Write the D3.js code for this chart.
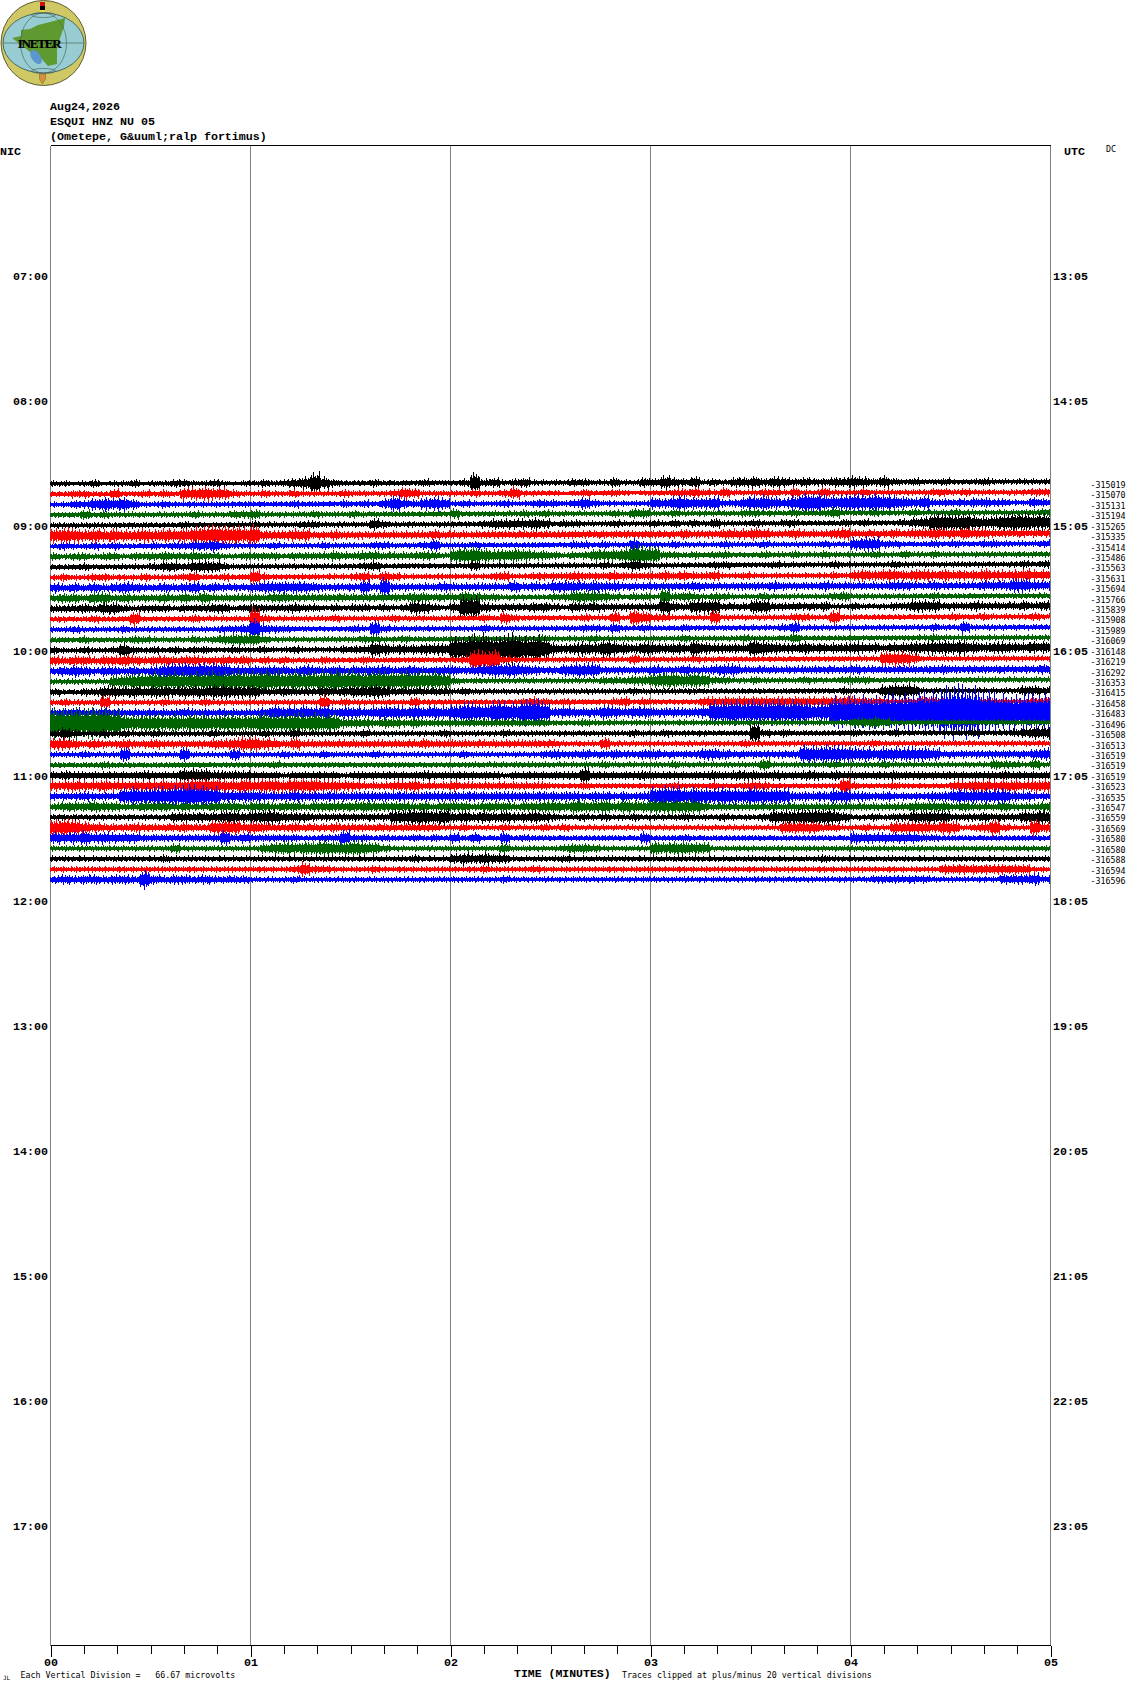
<!DOCTYPE html>
<html><head><meta charset="utf-8">
<style>html,body{margin:0;padding:0;background:#fff}svg{display:block}text{white-space:pre;fill:#000}</style>
<script src="https://cdn.jsdelivr.net/npm/d3@7/dist/d3.min.js"></script>
</head><body><div id="c"></div>
<script>
const titleLines=["Aug24,2026","ESQUI HNZ NU 05","(Ometepe, G&uuml;ralp fortimus)"];
const nicLabels=["07:00","08:00","09:00","10:00","11:00","12:00","13:00","14:00","15:00","16:00","17:00"];
const utcLabels=["13:05","14:05","15:05","16:05","17:05","18:05","19:05","20:05","21:05","22:05","23:05"];
const minuteLabels=["00","01","02","03","04","05"];
const traceColors=["#000000","#ff0000","#0000ff","#006400"];
const traceLabels=["-315019","-315070","-315131","-315194","-315265","-315335","-315414","-315486","-315563","-315631","-315694","-315766","-315839","-315908","-315989","-316069","-316148","-316219","-316292","-316353","-316415","-316458","-316483","-316496","-316508","-316513","-316519","-316519","-316519","-316523","-316535","-316547","-316559","-316569","-316580","-316580","-316588","-316594","-316596"];
const traceDrift=[-2,-2,-2,-2.5,-3,-2.5,-2.5,-2.5,-3,-2.5,-2.5,-2.5,-3,-2.5,-2.5,-2.5,-3,-2.5,-2,-2,-1.5,-1,-1,-1,-1,-1,-.5,-.5,0,0,0,0,0,0,0,0,0,0,-.5];
// half-amplitude of each trace (pixels of deflection) read every 10 px across the 5 minutes
const trace01=[3,3,2,3,4,2,3,3,4,2,3,3,4,4,3,3,4,3,2,3,3,4,3,4,5,6,11,6,4,3,3,3,4,3,3,3,3,4,3,3,3,4,10,4,5,3,4,5,3,3,3,3,4,4,3,3,5,3,3,5,4,7,5,4,6,3,4,3,5,5,6,4,6,5,4,5,4,4,5,5,6,5,4,6,4,3,4,3,3,4,3,3,3,4,3,3,3,3,3,3];
const trace02=[3,3,4,4,3,3,5,3,3,4,3,4,3,6,6,7,6,6,4,3,3,4,3,3,4,3,3,3,3,4,3,3,3,3,4,6,5,3,3,3,3,3,4,3,3,4,6,3,3,3,3,2,3,4,3,3,4,3,2,3,3,3,4,4,5,4,3,5,3,3,3,4,4,3,5,3,3,5,3,3,3,4,3,3,3,3,3,3,4,4,3,4,3,3,3,3,3,3,4,4];
const trace03=[3,3,4,4,6,7,6,7,5,3,3,4,3,3,3,3,3,3,3,3,3,3,3,3,4,3,3,3,3,4,3,4,3,5,8,5,4,6,7,6,3,4,3,3,3,4,3,3,4,4,4,3,4,6,4,3,3,3,3,3,6,5,7,7,6,6,7,4,4,6,7,8,6,5,7,9,9,8,7,8,9,8,9,8,7,6,5,7,4,4,4,4,5,5,4,4,3,3,5,4];
const trace04=[3,3,3,5,3,4,3,3,3,3,3,3,3,3,4,3,3,3,4,4,5,3,3,3,3,3,4,3,3,3,4,3,3,3,3,3,3,3,3,3,5,3,3,3,3,3,3,4,3,4,3,3,3,3,3,3,4,3,5,5,3,3,4,3,3,3,3,3,3,4,4,3,3,3,4,3,3,4,5,3,3,3,4,3,3,3,4,3,3,3,4,3,3,3,3,3,3,3,3,4];
const trace05=[3,3,3,3,3,3,3,3,3,3,3,3,3,4,3,3,3,3,3,3,4,3,3,3,3,4,4,3,3,3,3,3,6,4,3,3,3,3,3,3,3,3,3,4,5,5,5,5,6,5,3,4,4,3,3,3,4,3,3,3,4,3,4,3,4,3,5,3,3,3,4,3,3,4,4,3,3,3,3,4,3,4,3,3,3,4,5,6,9,9,8,9,7,6,7,8,9,9,8,8];
const trace06=[7,8,7,6,7,6,7,6,6,7,6,7,6,7,8,9,10,9,9,8,10,5,5,5,6,6,4,4,5,4,4,4,4,4,4,4,4,4,5,4,4,4,4,4,4,4,4,4,4,4,4,4,4,4,4,4,4,4,4,4,4,4,4,5,4,4,4,5,5,5,6,5,4,4,5,4,4,4,5,6,4,4,4,4,5,4,5,5,6,5,5,6,5,5,4,4,4,4,4,4];
const trace07=[3,4,3,3,4,3,4,3,3,3,4,3,4,4,5,5,6,4,3,3,3,3,4,3,3,3,3,4,3,3,3,3,4,4,3,3,3,4,6,3,3,3,4,3,3,3,3,3,3,3,3,3,4,4,3,4,3,3,6,3,3,3,4,3,3,3,3,4,3,3,3,4,3,3,3,3,3,4,3,3,6,7,7,4,4,3,3,3,4,3,4,3,3,4,4,3,3,3,3,4];
const trace08=[4,3,4,4,3,4,4,3,4,4,4,5,4,4,5,4,4,3,3,4,4,4,4,3,4,4,4,4,5,4,4,5,5,4,4,4,4,5,4,3,7,8,9,7,6,6,7,6,5,5,4,3,4,4,6,6,6,7,10,9,8,4,4,3,4,3,4,4,3,3,3,4,3,3,4,3,3,4,3,3,3,3,4,3,3,4,3,3,4,3,3,3,3,3,3,3,3,3,3,3];
const trace09=[3,3,3,4,3,3,3,3,3,3,4,5,5,4,6,6,6,4,3,3,3,3,3,3,3,3,3,3,3,3,3,4,5,3,3,3,3,3,3,3,3,3,5,3,3,3,3,3,3,3,3,3,3,3,3,4,3,4,6,4,3,3,3,3,3,3,4,4,3,3,3,3,4,3,3,3,3,3,4,3,3,3,3,3,4,3,3,3,3,3,3,3,3,3,3,3,3,4,3,4];
const trace10=[3,4,3,3,4,4,3,3,3,4,3,3,3,4,5,3,3,4,3,3,7,4,3,3,3,3,3,3,3,3,4,5,3,5,4,3,3,3,3,3,3,3,3,3,4,5,3,3,4,4,4,4,5,4,4,4,5,4,4,4,4,5,4,5,4,4,5,3,3,4,3,3,3,3,3,3,3,3,4,3,5,6,5,6,6,5,6,6,5,6,5,5,5,6,5,5,5,6,5,5];
const trace11=[5,4,5,4,5,4,5,6,5,4,4,5,4,5,6,4,5,4,4,4,5,6,6,6,6,6,5,4,4,4,4,7,4,9,4,4,4,4,4,5,4,4,4,4,4,4,6,4,5,4,6,6,6,5,6,5,5,4,4,4,4,4,4,4,5,4,4,4,4,4,4,4,5,4,4,4,4,5,4,4,4,4,4,4,5,5,4,4,5,4,4,4,4,5,5,5,7,7,5,5];
const trace12=[4,5,5,4,6,6,4,5,4,4,4,5,4,5,4,6,4,4,4,4,4,4,5,5,4,4,4,4,4,4,4,4,4,4,4,4,5,5,4,4,4,6,5,4,4,3,3,3,3,3,4,4,6,6,6,5,4,3,4,4,3,8,4,5,4,3,4,4,3,3,3,4,3,3,3,3,3,3,4,5,3,3,3,3,3,3,3,3,4,3,3,3,3,3,3,3,3,3,3,3];
const trace13=[4,4,4,5,4,6,6,4,3,4,4,4,3,4,4,4,5,5,3,4,5,4,4,4,5,4,4,3,4,3,4,4,3,4,3,4,7,6,4,3,5,11,11,5,4,4,4,4,5,5,4,3,5,4,5,4,4,4,4,4,4,8,5,4,7,7,7,4,4,4,7,7,4,4,4,4,4,5,3,3,4,3,3,3,4,4,6,6,6,4,4,4,5,4,4,4,4,5,4,5];
const trace14=[3,3,3,3,4,3,3,3,7,3,3,3,3,3,4,3,3,3,3,3,11,4,3,3,3,3,3,3,4,3,3,3,3,3,4,3,3,3,3,3,3,3,3,4,3,6,4,3,3,3,3,3,3,4,3,3,6,3,8,6,4,4,3,3,3,3,7,3,3,3,3,3,3,3,4,4,3,3,7,3,3,3,3,3,3,3,3,3,3,3,4,3,3,4,3,3,3,3,4,3];
const trace15=[3,3,4,3,3,3,3,4,3,3,3,3,3,3,3,3,3,4,4,5,10,5,4,4,3,3,3,3,3,3,4,3,8,4,3,3,3,3,3,3,3,3,3,4,3,3,3,3,3,3,3,3,3,4,4,3,5,3,3,4,3,3,3,4,3,3,3,3,3,3,3,3,3,4,6,3,3,3,3,3,3,3,3,3,3,3,3,3,4,3,3,6,3,3,3,3,3,3,3,3];
const trace16=[3,3,3,4,3,3,3,3,4,4,3,3,3,3,4,3,4,5,6,6,6,4,3,3,3,3,3,3,3,3,3,4,4,3,3,4,3,3,3,3,3,3,4,3,3,3,3,3,3,4,3,3,3,3,4,3,3,3,3,3,3,3,3,4,3,3,3,3,3,4,3,3,3,3,5,3,3,3,3,3,3,3,3,3,3,3,3,3,4,3,3,3,3,3,3,3,3,3,3,3];
const trace17=[4,3,3,4,3,3,4,7,4,3,4,3,4,3,4,4,3,3,4,3,3,4,3,3,4,3,3,3,3,4,4,4,8,6,5,5,5,6,6,6,12,12,14,15,12,14,15,12,13,11,6,5,6,7,6,9,7,6,5,7,6,5,6,5,8,6,5,5,5,5,9,7,6,5,5,6,5,5,5,5,6,5,5,4,5,5,6,6,7,7,7,7,6,5,6,6,5,5,6,6];
const trace18=[5,4,5,5,4,5,5,6,5,4,5,5,4,5,5,4,4,5,4,5,3,4,3,4,3,3,3,4,3,3,3,4,3,3,3,3,3,3,3,3,3,4,10,9,10,4,3,3,3,3,3,3,3,3,3,3,3,3,5,3,3,3,3,3,4,3,3,3,3,3,3,3,3,3,3,3,3,3,3,3,3,3,3,7,7,7,5,3,3,3,3,3,3,3,3,3,3,3,3,3];
const trace19=[4,5,6,5,4,5,5,4,5,4,5,7,8,8,7,8,8,7,5,5,5,5,5,5,4,6,5,4,5,4,5,5,5,6,4,5,5,4,4,5,5,4,5,6,7,7,7,6,5,4,4,6,7,7,7,4,4,4,4,4,5,4,4,5,4,4,5,6,6,4,4,4,4,4,4,4,4,4,4,4,5,4,4,4,4,4,4,4,4,5,4,4,4,4,4,4,4,4,4,5];
const trace20=[3,3,3,3,3,3,6,7,8,8,9,8,9,8,9,9,10,9,10,9,10,11,10,9,10,9,9,10,11,10,10,9,10,9,9,10,9,9,9,8,4,3,3,3,3,3,3,3,3,3,3,3,3,3,3,4,4,4,5,5,7,8,8,7,8,7,4,4,3,3,4,3,3,3,3,4,3,3,3,4,4,4,3,3,3,3,3,3,3,3,3,3,3,3,3,3,3,3,3,3];
const trace21=[4,3,3,4,4,6,6,5,6,5,6,6,5,6,6,6,7,7,6,6,6,4,4,5,4,4,4,5,4,5,6,6,7,6,4,4,4,4,4,4,3,4,3,3,3,3,3,3,3,3,3,3,3,3,3,3,3,3,4,3,3,3,3,3,3,3,3,3,3,3,3,3,3,3,3,3,3,3,3,4,3,3,3,6,7,7,6,3,3,3,3,3,3,3,3,3,3,5,5,4];
const trace22=[3,4,3,3,3,7,3,3,3,3,3,4,3,3,3,4,3,3,3,3,3,3,3,3,3,3,3,7,3,4,3,3,3,3,3,3,5,3,3,3,3,3,3,3,3,3,3,4,5,4,3,4,3,3,3,3,4,5,3,4,3,3,3,3,3,5,5,5,5,5,5,5,5,5,5,5,5,5,5,6,5,4,4,4,3,3,3,5,4,4,3,3,3,3,3,3,3,3,4,4];
const trace23=[4,4,5,4,4,5,4,4,4,4,4,4,4,5,4,4,4,4,4,4,4,5,7,6,6,7,6,7,5,6,6,5,6,7,7,6,7,6,7,6,8,10,9,8,11,10,9,12,13,10,5,6,5,5,5,7,6,5,6,6,5,5,5,5,5,6,11,11,12,11,12,11,12,11,12,11,9,10,15,14,15,16,15,16,17,17,18,19,20,24,26,25,24,20,18,17,16,18,17,17];
const trace24=[15,14,15,14,15,14,13,9,8,9,9,8,9,8,9,9,8,9,9,8,9,10,9,9,10,9,10,9,9,5,5,5,4,5,5,4,5,4,4,4,4,4,4,4,4,4,4,4,4,4,3,3,3,4,3,3,3,3,3,3,3,3,3,3,3,3,3,3,3,3,3,3,3,3,3,3,3,3,3,3,5,5,6,5,3,3,3,3,3,3,3,3,3,3,3,3,3,3,3,3];
const trace25=[4,6,4,3,3,4,3,4,3,3,4,3,3,3,3,3,4,3,3,3,3,4,3,3,5,3,3,3,3,3,3,4,3,3,3,3,3,3,3,4,3,3,3,3,3,4,3,3,3,3,3,3,3,3,3,3,3,3,4,3,3,4,3,3,3,3,3,3,3,3,10,4,3,4,3,3,3,3,3,3,4,3,3,3,4,3,3,3,3,3,3,3,4,3,3,3,4,5,6,6];
const trace26=[6,6,5,4,5,4,4,5,4,4,5,4,4,4,4,4,5,5,6,7,7,6,5,4,6,4,4,4,4,4,4,4,4,4,4,4,4,5,4,4,4,4,4,4,4,4,4,4,4,4,4,3,3,3,3,6,3,3,3,3,3,3,3,3,3,3,3,3,3,4,3,3,3,3,3,3,3,3,3,3,3,3,4,3,3,3,3,3,3,3,3,3,3,3,3,3,3,3,3,3];
const trace27=[3,3,3,4,3,3,3,7,3,3,3,3,3,7,3,3,3,3,6,3,3,3,3,4,3,3,3,4,3,3,3,3,4,3,3,3,3,3,3,3,3,4,3,3,3,3,3,3,3,4,5,4,4,5,4,4,5,4,4,5,5,4,4,4,4,6,6,5,4,4,4,4,4,4,4,9,8,9,9,8,7,7,6,7,7,7,7,7,6,4,4,4,4,4,4,4,4,4,5,6];
const trace28=[3,3,3,3,3,4,3,3,3,3,3,3,3,3,3,3,3,3,3,3,3,3,4,3,3,3,3,3,3,3,3,3,3,3,3,3,3,3,3,3,3,3,3,3,3,3,3,3,3,3,3,3,3,3,3,4,3,3,3,3,3,3,4,3,3,3,3,3,3,3,3,6,3,3,3,3,3,3,4,3,3,3,3,4,3,3,3,3,3,3,3,3,3,3,5,4,4,3,5,3];
const trace29=[4,5,4,4,4,4,4,4,4,5,4,4,4,7,7,7,5,5,5,5,4,4,4,3,4,4,4,4,4,3,4,4,4,4,4,4,4,5,4,4,4,4,4,4,4,3,4,4,4,4,4,4,4,8,4,4,4,4,4,5,4,4,4,4,4,4,5,4,5,5,5,4,5,4,4,5,5,4,5,4,4,4,4,4,5,4,4,4,4,4,4,4,4,4,4,5,4,4,4,4];
const trace30=[5,5,6,5,5,6,5,5,5,5,5,6,5,6,7,7,7,6,6,7,6,7,7,6,7,7,7,6,6,5,5,4,4,4,5,5,6,4,4,4,5,4,4,4,4,4,4,4,4,4,3,3,3,4,3,3,3,3,3,3,3,3,4,3,3,3,4,3,3,4,5,4,3,3,3,3,3,3,3,8,4,3,3,3,4,3,3,3,3,3,5,5,6,6,5,6,6,5,6,6];
const trace31=[4,4,4,5,4,4,4,8,9,8,9,9,10,11,11,10,9,6,6,6,6,5,5,5,6,5,5,5,5,5,5,5,5,5,5,5,5,5,5,5,5,5,5,5,5,5,5,5,5,5,5,5,5,4,5,5,4,5,4,5,9,10,10,8,9,8,8,9,8,8,9,8,8,8,5,5,5,5,7,7,5,5,4,5,4,4,4,4,5,5,7,7,7,7,7,7,5,5,4,4];
const trace32=[4,5,5,5,6,5,5,4,4,5,5,5,4,5,4,4,5,5,5,4,5,5,4,5,5,4,5,5,5,5,5,6,5,5,5,5,4,5,4,5,5,5,4,5,5,5,4,5,5,6,6,5,7,6,6,7,5,7,6,6,7,7,7,7,7,5,4,4,4,4,4,4,4,4,4,4,4,4,4,4,4,4,4,4,4,4,5,5,5,5,4,5,4,4,4,5,4,4,4,5];
const trace33=[3,3,3,3,3,3,3,3,3,3,3,3,5,5,5,5,5,6,6,5,6,7,7,5,5,5,4,4,4,4,4,4,4,4,7,7,8,8,7,8,5,6,5,6,5,6,5,5,6,5,4,3,3,4,3,4,3,3,4,3,3,3,3,4,3,3,3,4,3,3,3,4,7,7,7,8,8,8,7,5,3,3,4,3,4,4,6,6,6,6,4,4,4,5,4,4,4,6,6,7];
const trace34=[8,9,8,6,5,4,4,4,5,4,4,4,4,5,4,4,7,7,7,5,6,5,4,4,5,4,4,4,5,4,4,4,4,4,4,4,4,4,4,3,3,4,3,3,3,4,3,3,3,4,3,4,3,3,3,3,3,3,3,3,3,3,3,3,3,3,3,3,3,3,3,3,3,6,6,6,6,4,4,3,3,4,3,3,6,6,6,6,5,7,6,3,4,5,8,4,3,3,8,5];
const trace35=[6,5,6,7,5,6,5,5,5,4,4,4,4,4,4,4,4,7,4,5,4,4,4,4,4,3,3,4,4,8,4,4,3,4,3,3,4,3,4,3,5,3,5,3,3,6,3,4,3,3,3,3,3,3,3,3,3,3,3,6,3,3,3,4,3,3,3,3,3,3,3,3,3,3,3,3,3,3,3,3,6,5,5,5,5,5,5,4,4,3,3,3,3,3,3,3,3,3,3,3];
const trace36=[3,3,3,3,3,3,3,3,3,3,3,3,5,3,3,3,3,3,3,3,3,5,6,7,6,7,7,8,7,7,8,7,6,4,3,3,3,3,3,3,3,3,3,3,3,5,3,3,3,3,3,4,5,5,4,3,3,3,3,3,7,6,7,7,6,6,3,3,3,3,3,3,3,3,3,3,3,3,3,3,3,3,3,3,3,3,3,3,3,3,3,3,3,3,3,3,3,3,3,3];
const trace37=[3,3,3,3,3,3,3,3,3,3,3,4,3,3,3,3,3,3,3,3,3,3,3,3,3,3,3,3,3,3,3,3,3,3,3,3,4,3,3,3,5,6,5,6,5,5,3,3,3,3,3,4,3,3,3,3,3,3,3,3,3,3,3,3,3,3,3,3,3,3,3,3,3,3,3,3,3,4,3,3,3,3,3,3,3,3,3,3,3,3,3,3,3,3,3,3,3,3,3,3];
const trace38=[3,3,3,3,3,3,3,3,3,3,3,3,3,3,3,3,3,3,3,3,3,3,3,3,4,7,4,4,3,3,3,3,4,3,3,3,3,3,3,3,3,3,3,4,3,3,3,3,4,3,3,3,3,3,3,3,3,3,3,3,3,3,3,3,3,3,3,3,3,3,3,3,3,3,3,3,3,3,3,3,3,3,3,3,3,3,3,3,3,5,5,5,5,5,5,5,5,5,3,3];
const trace39=[4,5,4,5,5,4,5,5,4,9,5,4,5,5,4,5,4,4,4,4,3,3,3,3,4,3,3,3,3,3,3,3,3,3,3,3,3,3,3,3,3,3,3,3,3,4,3,3,3,3,3,3,3,3,3,3,3,3,3,3,3,3,3,3,3,3,3,3,3,3,3,3,3,3,3,3,3,3,3,3,3,3,4,4,4,4,4,4,3,3,3,3,3,3,3,5,5,5,6,4];
const traces=[trace01,trace02,trace03,trace04,trace05,trace06,trace07,trace08,trace09,trace10,trace11,trace12,trace13,trace14,trace15,trace16,trace17,trace18,trace19,trace20,trace21,trace22,trace23,trace24,trace25,trace26,trace27,trace28,trace29,trace30,trace31,trace32,trace33,trace34,trace35,trace36,trace37,trace38,trace39];
// fixed glyphs: how one envelope reading is stamped as a run of pixel columns
const glyphs=[[.55,.7,.45,1,.6,.5,.8,.45,.65,.5],[.5,.85,.6,.45,.7,.5,1,.55,.45,.75],[.7,.45,.6,.5,.9,.55,.45,.65,1,.5],[.45,.6,1,.5,.55,.75,.45,.6,.5,.85],[.6,.5,.75,.45,.55,1,.65,.45,.8,.55],[.5,.65,.45,.9,.5,.6,.45,.7,.55,1],[.75,.5,.55,.6,1,.45,.7,.5,.6,.45]];
const ampGain=1.12;

const W=1130,H=1689;
const svg=d3.select("#c").append("svg").attr("width",W).attr("height",H).attr("viewBox",`0 0 ${W} ${H}`);
const bold="'Liberation Mono','DejaVu Sans Mono',monospace";
const small="'DejaVu Sans Mono',monospace";
const x=d3.scaleLinear().domain([0,5]).range([50.5,1050.5]);
const hourY=d3.scaleLinear().domain([0,nicLabels.length-1]).range([276,1526]);
const traceY=d3.scaleLinear().domain([0,38]).range([483.7,879.7]);
const T0=145.5,T1=1645.5;

// logo
const logo=svg.append("g");
logo.append("circle").attr("cx",43.5).attr("cy",43).attr("r",42.5).attr("fill","#cfc864").attr("stroke","#5c5c30").attr("stroke-width",1);
logo.append("ellipse").attr("cx",43.5).attr("cy",43).attr("rx",40.5).attr("ry",30).attr("fill","#97cdd2").attr("stroke","#4a6a60");
const geo=[[21,30],[30,29],[38,25],[50,22],[65,18],[64,27],[60,38],[57,50],[57,64],[48,66],[40,57],[30,52],[20,44],[12,38],[21,36]];
logo.append("path").attr("d",d3.line()(geo)+"Z").attr("fill","#5f9a30");
logo.append("ellipse").attr("cx",36).attr("cy",57).attr("rx",4.5).attr("ry",8).attr("transform","rotate(-35 36 57)").attr("fill","#5d96cc");
logo.append("ellipse").attr("cx",43.5).attr("cy",43).attr("rx",23).attr("ry",30).attr("fill","none").attr("stroke","#4a6a60").attr("stroke-width",.7);
logo.append("ellipse").attr("cx",43.5).attr("cy",15).attr("rx",12).attr("ry",2.5).attr("fill","none").attr("stroke","#4a6a60").attr("stroke-width",.7);
logo.append("ellipse").attr("cx",43.5).attr("cy",71).attr("rx",12).attr("ry",2.5).attr("fill","none").attr("stroke","#4a6a60").attr("stroke-width",.7);
logo.append("line").attr("x1",3).attr("x2",84).attr("y1",43).attr("y2",43).attr("stroke","#4a6a60").attr("stroke-width",.7);
logo.append("rect").attr("x",40).attr("y",2).attr("width",5).attr("height",4).attr("fill","#d01010");
logo.append("rect").attr("x",40).attr("y",6).attr("width",5).attr("height",4).attr("fill","#000");
logo.append("rect").attr("x",40).attr("y",10).attr("width",5).attr("height",2).attr("fill","#e8d840");
logo.append("path").attr("d","M39.5 74H45.5V79L42.5 84L39.5 79Z").attr("fill","#d89040").attr("stroke","#807020").attr("stroke-width",.6);
logo.append("text").attr("x",39.7).attr("y",48).attr("text-anchor","middle").attr("font-family","'Liberation Serif',serif").attr("font-weight","bold").attr("font-size",13).attr("textLength",44).attr("stroke","#000").attr("stroke-width",.2).text("INETER");

// header text
titleLines.forEach((t,i)=>svg.append("text").attr("x",50).attr("y",[110,125,140][i]).attr("font-family",bold).attr("font-weight","bold").attr("font-size",11.67).text(t));
svg.append("text").attr("x",0).attr("y",155).attr("font-family",bold).attr("font-weight","bold").attr("font-size",11.67).text("NIC");
svg.append("text").attr("x",1064).attr("y",155).attr("font-family",bold).attr("font-weight","bold").attr("font-size",11.67).text("UTC");
svg.append("text").attr("x",1106).attr("y",152).attr("font-family",small).attr("font-size",8.3).text("DC");

// grid and frame
const grid=svg.append("g").attr("shape-rendering","crispEdges");
grid.selectAll("line").data(d3.range(0,6)).join("line").attr("x1",d=>x(d)).attr("x2",d=>x(d)).attr("y1",T0).attr("y2",T1).attr("stroke","#808080");
grid.append("line").attr("x1",x(0)).attr("x2",x(5)).attr("y1",T0).attr("y2",T0).attr("stroke","#000");

// traces: every reading is stamped as ten pixel columns scaled by that reading
const gTr=svg.append("g").attr("shape-rendering","crispEdges");
traces.forEach((vals,i)=>{
  const n=vals.length, color=traceColors[i%4];
  const p=d3.path();
  vals.forEach((v,k)=>{
    const g=glyphs[(k+i*3)%glyphs.length], g2=glyphs[(k+i*5+3)%glyphs.length];
    const left=x(5*k/n), w=x(5*(k+1)/n)-left;
    g.forEach((f,j)=>{
      const cx=Math.floor(left+j*w/g.length)+.5;
      const y=traceY(i)+traceDrift[i]*k/(n-1);
      p.moveTo(cx,y-Math.max(1.5,v*f*ampGain));
      p.lineTo(cx,y+Math.max(1.5,v*g2[j]*ampGain));
    });
  });
  gTr.append("path").attr("d",p.toString()).attr("fill","none").attr("stroke",color).attr("stroke-width",1.7);
});

// side labels through axes
const axY=d3.scaleLinear().domain([0,10]).range([hourY(0),hourY(10)]);
const left=svg.append("g").attr("transform","translate(48,0)").call(d3.axisLeft(axY).tickValues(d3.range(11)).tickSize(0).tickPadding(0).tickFormat(i=>nicLabels[i]));
const right=svg.append("g").attr("transform","translate(1053,0)").call(d3.axisRight(axY).tickValues(d3.range(11)).tickSize(0).tickPadding(0).tickFormat(i=>utcLabels[i]));
[left,right].forEach(g=>{g.select(".domain").remove();g.selectAll("text").attr("font-family",bold).attr("font-weight","bold").attr("font-size",11.67).attr("dy","0.32em");});

// trace end labels
svg.append("g").selectAll("text").data(traceLabels).join("text").attr("x",1090.5).attr("y",(d,i)=>traceY(i)+4.3).attr("font-family",small).attr("font-size",8.3).text(d=>d);

// time axis
const axB=svg.append("g").attr("transform",`translate(0,${T1})`).attr("shape-rendering","crispEdges");
axB.call(d3.axisBottom(x).tickValues(d3.range(0,5.001,1/6)).tickSize(8).tickPadding(3).tickFormat(d=>{const m=Math.round(d*6);return m%6===0?minuteLabels[m/6]:"";}));
axB.select(".domain").attr("stroke","#000").attr("d",`M${x(0)},0H${x(5)}`);
axB.selectAll(".tick line").attr("stroke","#000").attr("y2",d=>Math.abs(d-Math.round(d))<1e-6?11:8);
axB.selectAll(".tick text").attr("font-family",bold).attr("font-weight","bold").attr("font-size",11.67).attr("y",12).attr("dy","0.71em");

// footer
svg.append("text").attr("x",3).attr("y",1680).attr("font-family",small).attr("font-size",6).text("JL");
svg.append("text").attr("x",20.5).attr("y",1678).attr("font-family",small).attr("font-size",8.3).text("Each Vertical Division =   66.67 microvolts");
svg.append("text").attr("x",514).attr("y",1677).attr("font-family",bold).attr("font-weight","bold").attr("font-size",11.5).text("TIME (MINUTES)");
svg.append("text").attr("x",622).attr("y",1678).attr("font-family",small).attr("font-size",8.3).text("Traces clipped at plus/minus 20 vertical divisions");
</script></body></html>
